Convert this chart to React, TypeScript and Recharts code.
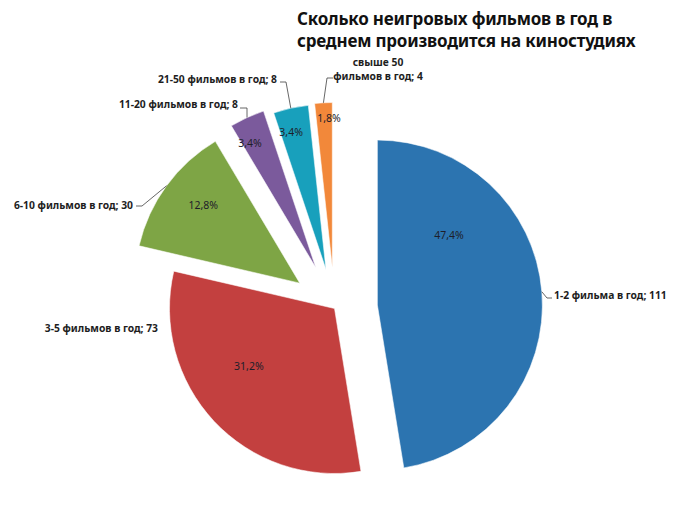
import { PieChart, Pie, Cell, Sector } from 'recharts';

document.body.style.margin = '0';

const categories = [
  '1-2 фильма в год',
  '3-5 фильмов в год',
  '6-10 фильмов в год',
  '11-20 фильмов в год',
  '21-50 фильмов в год',
  'свыше 50\nфильмов в год',
];
const counts = [111, 73, 30, 8, 8, 4];
const percentLabels = ['47,4%', '31,2%', '12,8%', '3,4%', '3,4%', '1,8%'];

const TITLE = ['Сколько неигровых фильмов в год в', 'среднем производится на киностудиях'];

const COLORS = ['#2C74B0', '#C3403F', '#7EA545', '#7B5A9C', '#18A0BC', '#F2883A'];
const EXPLODE = [43, 0, 43, 45, 40, 41];
const RADIUS = 165;

// where the percentage sits inside each slice: shift from mid angle (deg) and distance from apex
const PCT_POS = [
  { shift: 39.7, r: 100 },
  { shift: -9.3, r: 103 },
  { shift: -2.7, r: 124 },
  { shift: 3.2, r: 141 },
  { shift: 1.9, r: 142 },
  { shift: -1.8, r: 150 },
];

// outside labels: text anchor point and leader line elbow/end
const LABEL_POS: { x: number; y: number; anchor: 'start' | 'end' | 'middle'; leader: number[][] }[] = [
  { x: 554, y: 295, anchor: 'start', leader: [[547, 298], [552, 298]] },
  { x: 158, y: 328, anchor: 'end', leader: [] },
  { x: 133, y: 205, anchor: 'end', leader: [[142, 206], [136, 206]] },
  { x: 238, y: 104, anchor: 'end', leader: [[247, 108], [240, 108]] },
  { x: 277, y: 79, anchor: 'end', leader: [[286, 82], [280, 82]] },
  { x: 378, y: 62, anchor: 'middle', leader: [[327, 78], [333, 78]] },
];

const data = categories.map((name, i) => ({ name, value: counts[i] }));

const RAD = Math.PI / 180;
const polar = (cx: number, cy: number, r: number, angle: number) => ({
  x: cx + r * Math.cos(-angle * RAD),
  y: cy + r * Math.sin(-angle * RAD),
});

const FONT = '"Noto Sans", "Open Sans", sans-serif';

const renderSlice = (p: any) => {
  const i = p.index;
  const apex = polar(p.cx, p.cy, EXPLODE[i], p.midAngle);
  const pct = polar(apex.x, apex.y, PCT_POS[i].r, p.midAngle + PCT_POS[i].shift);
  const edge = polar(apex.x, apex.y, p.outerRadius, p.midAngle);
  const lab = LABEL_POS[i];
  const lines = `${categories[i]}; ${counts[i]}`.split('\n');
  const leader = lab.leader.length
    ? `M${edge.x},${edge.y}` + lab.leader.map(([x, y]) => `L${x},${y}`).join('')
    : null;
  return (
    <g key={`slice-${i}`}>
      <Sector
        cx={apex.x}
        cy={apex.y}
        innerRadius={0}
        outerRadius={p.outerRadius}
        startAngle={p.startAngle}
        endAngle={p.endAngle}
        fill={COLORS[i]}
        stroke="#ffffff"
        strokeOpacity={0.55}
        strokeWidth={1}
      />
      <text
        x={pct.x}
        y={pct.y}
        textAnchor="middle"
        dominantBaseline="central"
        fontFamily={FONT}
        fontSize={10.5}
        fill="#1e1e2a"
      >
        {percentLabels[i]}
      </text>
      {leader && <path d={leader} fill="none" stroke="#404040" strokeWidth={0.8} />}
      {lines.map((ln, k) => (
        <text
          key={k}
          x={lab.x}
          y={lab.y + k * 14}
          textAnchor={lab.anchor}
          dominantBaseline="central"
          fontFamily={FONT}
          fontWeight="bold"
          fontSize={10.3}
          fill="#1e1e1e"
        >
          {ln}
        </text>
      ))}
    </g>
  );
};

export default function App() {
  return (
    <div style={{ width: 700, height: 527, background: '#ffffff', position: 'relative' }}>
      <PieChart width={700} height={527} margin={{ top: 0, right: 0, bottom: 0, left: 0 }}>
        <text x={297} y={24.5} fontFamily={FONT} fontWeight="bold" fontSize={17} letterSpacing={-0.2} fill="#111111">
          {TITLE[0]}
        </text>
        <text x={297} y={46.7} fontFamily={FONT} fontWeight="bold" fontSize={17} letterSpacing={-0.2} fill="#111111">
          {TITLE[1]}
        </text>
        <Pie
          data={data}
          dataKey="value"
          nameKey="name"
          cx={334.5}
          cy={308.5}
          innerRadius={0}
          outerRadius={RADIUS}
          startAngle={90}
          endAngle={-270}
          stroke="none"
          labelLine={false}
          label={renderSlice}
          isAnimationActive={false}
        >
          {data.map((d, i) => (
            <Cell key={d.name} fill="transparent" />
          ))}
        </Pie>
      </PieChart>
    </div>
  );
}
